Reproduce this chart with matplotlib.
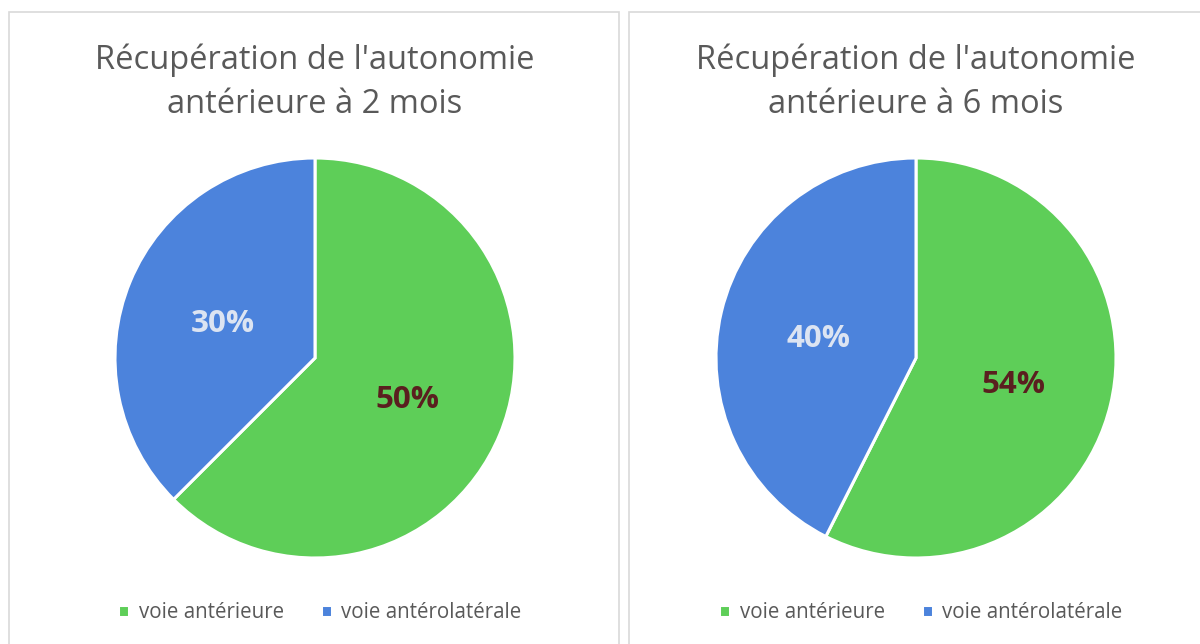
import matplotlib.pyplot as plt
from matplotlib.patches import Rectangle

# data
categories = ['voie antérieure', 'voie antérolatérale']
titles = ["Récupération de l'autonomie\nantérieure à 2 mois",
          "Récupération de l'autonomie\nantérieure à 6 mois"]
values_2m = [50, 30]
values_6m = [54, 40]
labels_2m = ['50%', '30%']
labels_6m = ['54%', '40%']

colors = ['#5ECE58', '#4C83DC']
label_colors = ['#5A1F1F', '#DCE4F2']

plt.rcParams['font.family'] = ['Open Sans', 'DejaVu Sans']

W, H = 1200, 644
fig = plt.figure(figsize=(W / 100, H / 100), dpi=100)

# panel frames
for x0, x1 in [(9, 619), (629, 1210)]:
    fig.add_artist(Rectangle((x0 / W, -0.02), (x1 - x0) / W, (H - 12) / H + 0.02,
                             transform=fig.transFigure, fill=False,
                             edgecolor='#D9D9D9', linewidth=1.2))

panels = [(315, values_2m, labels_2m, titles[0]),
          (916, values_6m, labels_6m, titles[1])]

for cx, vals, labs, title in panels:
    r = 200
    ax = fig.add_axes([(cx - r) / W, (H - 358 - r) / H, 2 * r / W, 2 * r / H])
    it = iter(labs)
    wedges, _, autotexts = ax.pie(vals, colors=colors, startangle=90, counterclock=False,
                                  autopct=lambda p: next(it), pctdistance=0.5,
                                  wedgeprops=dict(edgecolor='white', linewidth=2.2))
    for t, c in zip(autotexts, label_colors):
        t.set_color(c)
        t.set_fontsize(22.5)
        t.set_fontweight('bold')
        t.set_y(t.get_position()[1] - 0.02)
    ax.set_xlim(-1, 1)
    ax.set_ylim(-1, 1)
    ax.set_aspect('equal')
    fig.text(cx / W, (H - 82) / H, title, ha='center', va='center',
             fontsize=23.5, color='#595959', linespacing=1.45)
    leg = fig.legend(wedges, categories, loc='center', bbox_to_anchor=(cx / W + 0.004, (H - 613) / H),
                     ncol=2, frameon=False, fontsize=14.8, handlelength=0.55, handleheight=0.55,
                     handletextpad=0.45, columnspacing=1.8, labelcolor='#595959')

fig.savefig('out.png', dpi=100)
